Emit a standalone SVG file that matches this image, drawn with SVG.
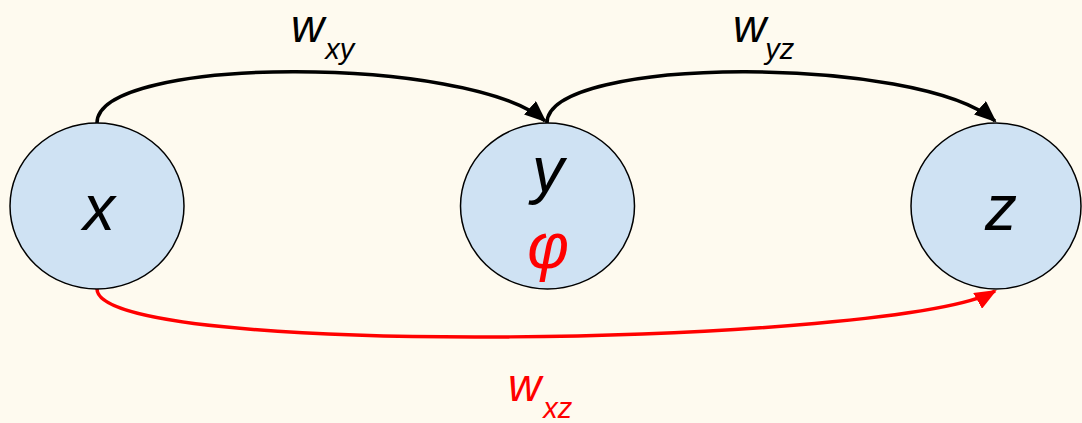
<svg xmlns="http://www.w3.org/2000/svg" width="1082" height="423" viewBox="0 0 1082 423">
<style>
.node{fill:#cfe2f3;stroke:#000;stroke-width:1.5}
.t{font-family:"Liberation Sans",Arial,sans-serif;font-style:italic}
.big{font-size:64px}
.lbl{font-size:46px}
.sub{font-size:29px}
.edge{fill:none;stroke-width:3.5}
</style>
<defs>
<marker id="ab" markerWidth="22" markerHeight="18" refX="20" refY="9" orient="auto" markerUnits="userSpaceOnUse"><path d="M0,0 L22,9 L0,18 z" fill="#000"/></marker>
<marker id="ar" markerWidth="22" markerHeight="18" refX="20" refY="9" orient="auto" markerUnits="userSpaceOnUse"><path d="M0,0 L22,9 L0,18 z" fill="#ff0000"/></marker>
</defs>
<rect width="1082" height="423" fill="#fefaef"/>
<g id="connectors">
<path class="edge" stroke="#000" d="M97,123 C97,55 470,55 545,121" marker-end="url(#ab)"/>
<path class="edge" stroke="#000" d="M547,123 C547,55 920,55 995,121" marker-end="url(#ab)"/>
<path class="edge" stroke="#ff0000" d="M97,289 C97,360 900,345 995,291" marker-end="url(#ar)"/>
</g>
<g id="node-x"><ellipse class="node" cx="97" cy="206" rx="87" ry="83"/><text class="t big" x="99" y="230" text-anchor="middle">x</text></g>
<g id="node-y"><ellipse class="node" cx="547.5" cy="206" rx="87" ry="83"/><text class="t big" x="548" y="192" text-anchor="middle">y</text><text class="t big" x="548" y="268" text-anchor="middle" fill="#ff0000">φ</text></g>
<g id="node-z"><ellipse class="node" cx="996" cy="206" rx="85" ry="83"/><text class="t big" x="1001" y="230" text-anchor="middle">z</text></g>
<g id="label-wxy"><text class="t" x="291" y="42"><tspan class="lbl">w</tspan><tspan class="sub" dx="1" dy="17">xy</tspan></text></g>
<g id="label-wyz"><text class="t" x="733" y="42"><tspan class="lbl">w</tspan><tspan class="sub" dx="-1" dy="17">yz</tspan></text></g>
<g id="label-wxz" fill="#ff0000"><text class="t" x="508" y="401"><tspan class="lbl">w</tspan><tspan class="sub" dx="2" dy="17">xz</tspan></text></g>
</svg>
